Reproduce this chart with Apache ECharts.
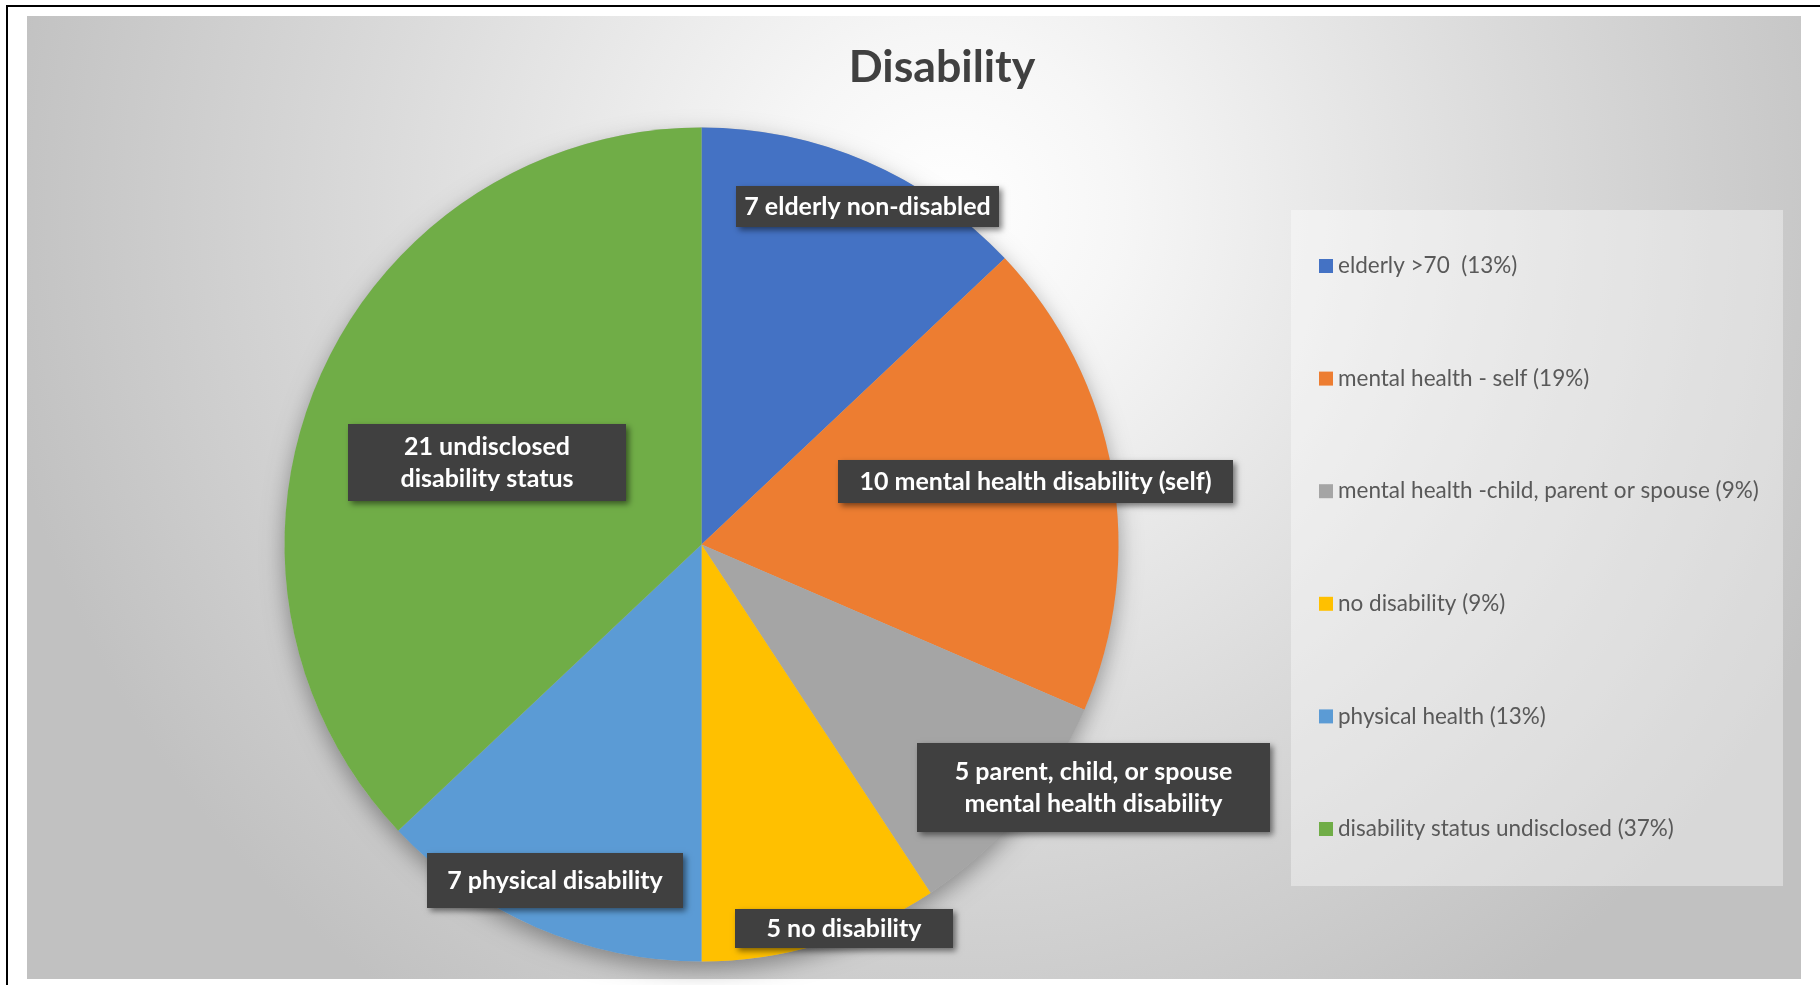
<!DOCTYPE html>
<html><head><meta charset="utf-8">
<script src="https://cdn.jsdelivr.net/npm/echarts@6/dist/echarts.min.js"></script>
<style>
html,body{margin:0;padding:0;background:#fff;}
#chart{width:1820px;height:985px;position:absolute;left:0;top:0;}
#frame{position:absolute;left:6px;top:5px;width:1814px;height:980px;border-top:2px solid #000;border-left:2px solid #000;pointer-events:none;box-sizing:border-box;}
</style></head><body>
<div id="chart"></div><div id="frame"></div>
<script>
// ---- data ----
const titleText = 'Disability';
const categories = ['elderly >70  (13%)', 'mental health - self (19%)', 'mental health -child, parent or spouse (9%)', 'no disability (9%)', 'physical health (13%)', 'disability status undisclosed (37%)'];
const values = [7, 10, 5, 5, 7, 20];
const sliceLabels = ['7 elderly non-disabled', '10 mental health disability (self)', '5 parent, child, or spouse\nmental health disability', '5 no disability', '7 physical disability', '21 undisclosed\ndisability status'];
const colors = ['#4472C4', '#ED7D31', '#A5A5A5', '#FFC000', '#5B9BD5', '#70AD47'];

// ---- layout (not data) ----
const pieCenter = [701.5, 544.5];
const pieRadius = 417;
const labelLineH = 32;
const labelBoxes = [
  { dx: 166, dy: -338, w: 263, h: 41 },
  { dx: 334, dy: -63, w: 395, h: 43 },
  { dx: 392, dy: 243, w: 353, h: 89 },
  { dx: 142.5, dy: 384, w: 218, h: 39 },
  { dx: -146.5, dy: 336, w: 256, h: 55 },
  { dx: -214.5, dy: -82, w: 278, h: 77 }
];

const total = values.reduce((a, b) => a + b, 0);

const pieData = values.map((v, i) => {
  const b = labelBoxes[i];
  const lines = sliceLabels[i].split('\n').length;
  const padV = Math.max(0, (b.h - lines * labelLineH) / 2);
  return {
    name: categories[i],
    value: v,
    itemStyle: { color: colors[i] },
    label: {
      formatter: sliceLabels[i],
      width: b.w,
      padding: [padV, 0, padV, 0]
    }
  };
});

const chart = echarts.init(document.getElementById('chart'), null, { renderer: 'canvas' });

chart.setOption({
  animation: false,
  color: colors,
  graphic: [
    {
      type: 'rect', z: -10, silent: true,
      shape: { x: 27, y: 16, width: 1774, height: 963 },
      style: {
        fill: new echarts.graphic.RadialGradient(0.52, 0.2, 1.0, [
          { offset: 0, color: '#ffffff' },
          { offset: 0.18, color: '#f6f6f6' },
          { offset: 0.6, color: '#dadada' },
          { offset: 1, color: '#c1c1c1' }
        ])
      }
    },
    {
      type: 'rect', z: -5, silent: true,
      shape: { x: 1291, y: 210, width: 492, height: 676 },
      style: { fill: 'rgba(255,255,255,0.38)' }
    },
    {
      type: 'text', z: 10, silent: true,
      x: 942, y: 68,
      style: {
        text: titleText, align: 'center', verticalAlign: 'middle',
        fill: '#404040', font: 'bold 44.7px Lato'
      }
    }
  ],
  legend: {
    orient: 'vertical',
    left: 1314,
    top: 249,
    data: categories,
    icon: 'rect',
    itemWidth: 14,
    itemHeight: 14,
    itemGap: 88.6,
    selectedMode: false,
    textStyle: { fontFamily: 'Lato', fontSize: 22.5, color: '#595959', lineHeight: 24 }
  },
  series: [
    {
      type: 'pie', name: 'shadow', silent: true,
      center: pieCenter, radius: pieRadius,
      data: [{ name: '__bg', value: total }],
      label: { show: false }, labelLine: { show: false },
      itemStyle: {
        color: '#bbbbbb',
        shadowBlur: 22, shadowColor: 'rgba(0,0,0,0.35)', shadowOffsetY: 8
      }
    },
    {
      type: 'pie', name: 'Disability',
      center: pieCenter, radius: pieRadius,
      startAngle: 90, clockwise: true,
      avoidLabelOverlap: false,
      data: pieData,
      itemStyle: { borderWidth: 0 },
      label: {
        show: true,
        position: 'inside',
        align: 'center',
        verticalAlign: 'middle',
        color: '#ffffff',
        fontFamily: 'Lato',
        fontWeight: 'bold',
        fontSize: 25,
        lineHeight: labelLineH,
        backgroundColor: '#404040',
        shadowColor: 'rgba(0,0,0,0.5)',
        shadowBlur: 6,
        shadowOffsetX: 3,
        shadowOffsetY: 3
      },
      labelLine: { show: false },
      labelLayout: function (params) {
        const b = labelBoxes[params.dataIndex];
        return { x: pieCenter[0] + b.dx, y: pieCenter[1] + b.dy, align: 'center', verticalAlign: 'middle' };
      },
      emphasis: { disabled: true }
    }
  ]
});
</script>
</body></html>
